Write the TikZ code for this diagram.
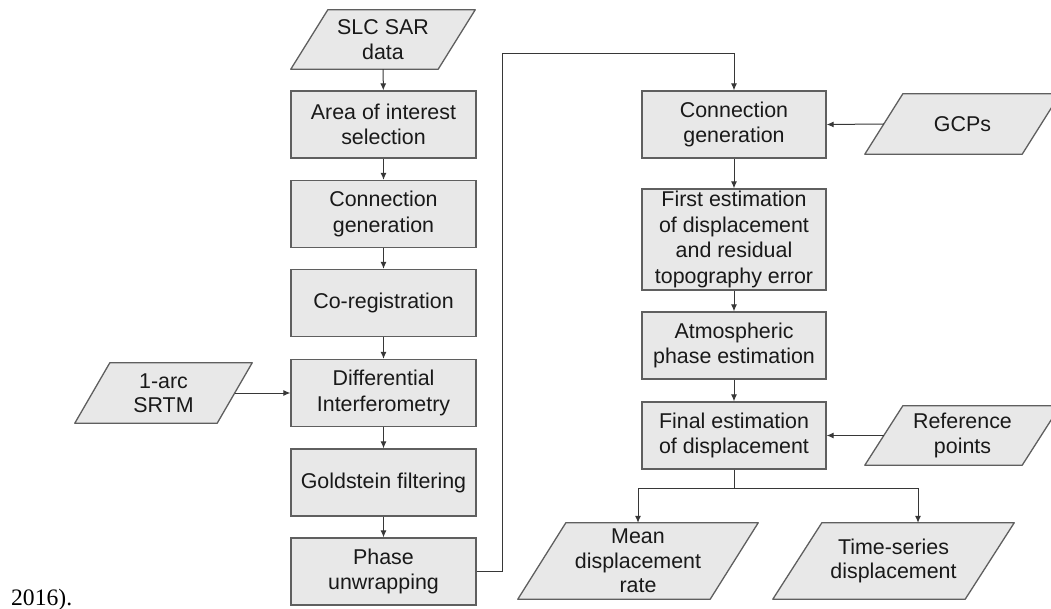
\documentclass[tikz,border=0pt]{standalone}
\usepackage{fontspec}
\setmainfont{Liberation Sans}
\newfontfamily\yearfont{Liberation Serif}
\usetikzlibrary{arrows.meta,backgrounds}

\definecolor{boxfill}{RGB}{232,232,232}
\definecolor{boxline}{RGB}{95,95,95}
\definecolor{flowline}{RGB}{55,55,55}
\definecolor{boxtext}{RGB}{25,25,25}

\tikzset{
  procbox/.style={rectangle,draw=boxline,fill=boxfill,line width=1.3pt,
    minimum width=185pt,minimum height=67pt,inner sep=1pt,align=center,
    text=boxtext,font=\fontsize{21.4}{25.7}\selectfont},
  databox/.style={rectangle,minimum height=60pt,inner sep=1pt,align=center,
    text=boxtext,font=\fontsize{21.4}{24.5}\selectfont},
  dataline/.style={draw=boxline,fill=boxfill,line width=1.3pt,line join=round},
  flow/.style={draw=flowline,line width=1pt,-{Latex[length=7pt,width=6pt]}}
}
% parallelogram round a data node: node name, slant
\newcommand{\drawdata}[2]{%
  \draw[dataline] (#1.south west) -- ([xshift=#2]#1.north west)
    -- (#1.north east) -- ([xshift=-#2]#1.south east) -- cycle;}

\begin{document}
\begin{tikzpicture}[x=1pt,y=-1pt]
      \useasboundingbox (0,0) rectangle (1051,609);

      % left column
      \node[databox,minimum width=184pt,minimum height=59pt] (slc) at (383,39.5) {SLC SAR\\data};
      \node[procbox] (aoi) at (383.5,124.5) {Area of interest\\selection};
      \node[procbox] (cg1) at (383.5,214) {Connection\\generation};
      \node[procbox] (coreg) at (383.5,303) {Co-registration};
      \node[procbox] (diff) at (383.5,393) {Differential\\Interferometry};
      \node[procbox] (gold) at (383.5,482.5) {Goldstein filtering};
      \node[procbox] (unwrap) at (383.5,571.5) {Phase\\unwrapping};
      \node[databox,minimum width=177pt] (srtm) at (163.5,393) {1-arc\\SRTM};

      % right column
      \node[procbox,minimum width=184pt] (cg2) at (734,124.5) {Connection\\generation};
      \node[procbox,minimum width=184pt,minimum height=101pt] (first) at (734,239.5)
        {First estimation\\of displacement\\and residual\\topography error};
      \node[procbox,minimum width=184pt] (atmo) at (734,345.5) {Atmospheric\\phase estimation};
      \node[procbox,minimum width=184pt] (final) at (734,435.5) {Final estimation\\of displacement};
      \node[databox,minimum width=195pt] (gcp) at (962.5,124) {GCPs};
      \node[databox,minimum width=195pt,minimum height=59pt] (refpt) at (962.5,435.5) {Reference\\points};
      \node[databox,minimum width=240pt,minimum height=76pt] (mean) at (638,561) {Mean\\displacement\\rate};
      \node[databox,minimum width=241pt,minimum height=76pt] (tseries) at (893.5,561) {Time-series\\displacement};

      \node[anchor=base west,inner sep=0pt,font=\yearfont\fontsize{23.6}{28}\selectfont] (year) at (11,605) {2016).};

      % data shapes behind the texts
      \begin{scope}[on background layer]
        \drawdata{slc}{37pt}
        \drawdata{srtm}{35pt}
        \drawdata{gcp}{38pt}
        \drawdata{refpt}{38pt}
        \drawdata{mean}{48pt}
        \drawdata{tseries}{49pt}
      \end{scope}

      % connectors
      \draw[flow] (slc) -- (aoi);
      \draw[flow] (aoi) -- (cg1);
      \draw[flow] (cg1) -- (coreg);
      \draw[flow] (coreg) -- (diff);
      \draw[flow] (diff) -- (gold);
      \draw[flow] (gold) -- (unwrap);
      \draw[flow] ([xshift=-17.5pt]srtm.east) -- (diff.west);

      \coordinate (fbturn) at (502,54);
      \draw[flow] (unwrap.east) -| (fbturn) -| (cg2.north);

      \draw[flow] ([xshift=19pt]gcp.west) -- (cg2.east);
      \draw[flow] (cg2) -- (first);
      \draw[flow] (first) -- (atmo);
      \draw[flow] (atmo) -- (final);
      \draw[flow] ([xshift=19pt]refpt.west) -- (final.east);

      \draw[flow] (final.south) -- ++(0,19) coordinate (split) -| (mean.north);
      \draw[flow] (split) -| ([xshift=24.5pt]tseries.north);
    \end{tikzpicture}
\end{document}
